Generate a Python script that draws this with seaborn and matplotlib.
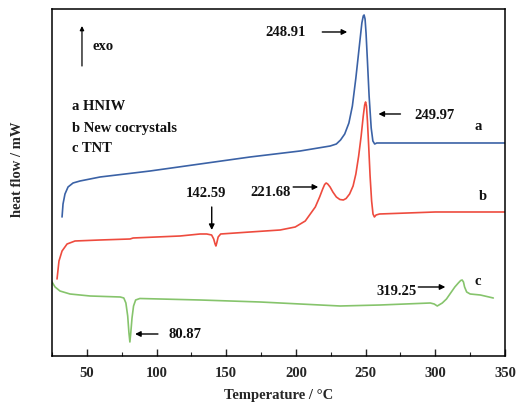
import matplotlib
matplotlib.use("Agg")
import matplotlib.pyplot as plt
from matplotlib.ticker import MultipleLocator
import seaborn as sns

# DSC traces (temperature in °C, heat flow in arbitrary offset units)
temp_a = [32.2, 32.9, 34.3, 36.5, 40.1, 45.1, 59.5, 95.4, 131.2, 167.1, 203.0,
          224.6, 229.0, 232.0, 235.0, 238.0, 240.5, 243.0, 245.5, 247.3, 248.3,
          248.91, 249.6, 250.3, 251.3, 252.5, 254.0, 255.2, 256.5, 258.0, 270.0,
          300.0, 330.0, 350.0]
flow_a = [13.9, 15.2, 16.2, 16.9, 17.3, 17.5, 17.9, 18.5, 19.2, 19.9, 20.5,
          21.0, 21.2, 21.6, 22.2, 23.3, 25.0, 27.8, 31.0, 33.3, 34.0,
          34.1, 33.7, 32.3, 29.5, 26.0, 22.8, 21.5, 21.2, 21.3, 21.3,
          21.3, 21.3, 21.3]

temp_b = [28.6, 30.0, 32.2, 35.8, 41.5, 59.5, 81.0, 83.2, 116.9, 131.2, 136.0,
          139.5, 141.0, 142.0, 142.59, 143.2, 144.2, 146.0, 167.1, 188.7, 199.5,
          206.7, 213.9, 217.0, 219.2, 220.6, 221.68, 222.8, 224.5, 226.5, 229.0,
          231.5, 234.0, 236.0, 238.5, 241.0, 243.0, 245.0, 246.8, 248.3, 249.3,
          249.97, 250.6, 251.3, 252.2, 253.2, 254.3, 255.3, 256.3, 257.5, 260.0,
          300.0, 350.0]
flow_b = [7.7, 9.5, 10.5, 11.2, 11.5, 11.6, 11.7, 11.8, 12.0, 12.2, 12.2,
          12.1, 11.7, 11.2, 11.0, 11.3, 11.9, 12.2, 12.4, 12.6, 12.9,
          13.5, 14.9, 15.9, 16.7, 17.15, 17.3, 17.2, 16.9, 16.4, 15.9,
          15.65, 15.6, 15.75, 16.2, 17.0, 18.2, 20.0, 22.0, 24.0, 25.1,
          25.4, 25.0, 23.5, 21.0, 18.0, 15.5, 14.2, 13.9, 14.1, 14.2,
          14.4, 14.4]

temp_c = [25.0, 27.2, 30.7, 37.9, 52.3, 74.0, 76.5, 78.0, 79.3, 80.2, 80.87,
          81.5, 82.4, 83.5, 85.0, 88.0, 131.2, 174.3, 203.0, 231.7, 260.5,
          296.4, 299.2, 301.4, 305.0, 308.0, 311.0, 314.0, 316.5, 318.2, 319.25,
          320.2, 321.0, 322.5, 325.0, 332.3, 341.6]
flow_c = [7.4, 6.9, 6.5, 6.2, 6.0, 5.9, 5.8, 5.3, 4.0, 2.3, 1.4,
          2.3, 3.8, 5.0, 5.6, 5.75, 5.6, 5.4, 5.2, 5.0, 5.1,
          5.3, 5.2, 5.0, 5.3, 5.7, 6.3, 6.9, 7.3, 7.55, 7.6,
          7.4, 6.9, 6.4, 6.2, 6.1, 5.8]

# Peak temperatures marked on the traces
peak_a = 248.91
peak_b_main = 249.97
peak_b_mid = 221.68
dip_b = 142.59
dip_c = 80.87
peak_c = 319.25

x_ticks = [50, 100, 150, 200, 250, 300, 350]

sns.set_style("ticks")
plt.rcParams["font.family"] = ["Liberation Serif", "DejaVu Serif"]
plt.rcParams["font.weight"] = "bold"

fig = plt.figure(figsize=(5.17, 4.06), dpi=100)
ax = fig.add_axes([0.1006, 0.1207, 0.8762, 0.8547])

sns.lineplot(x=temp_a, y=flow_a, ax=ax, color="#3b62a6", lw=1.2,
             sort=False, estimator=None)
sns.lineplot(x=temp_b, y=flow_b, ax=ax, color="#ee4b3e", lw=1.2,
             sort=False, estimator=None)
sns.lineplot(x=temp_c, y=flow_c, ax=ax, color="#86c46c", lw=1.2,
             sort=False, estimator=None)

ax.set_xlim(25, 350)
ax.set_ylim(0, 34.7)
ax.set_xticks(x_ticks)
ax.set_xticklabels([str(t) for t in x_ticks], fontsize=10.5, fontweight="bold")
ax.xaxis.set_minor_locator(MultipleLocator(25))
ax.tick_params(axis="x", which="major", direction="in", length=5, width=1,
               pad=7, top=False)
ax.tick_params(axis="x", which="minor", direction="in", length=3, width=0.8,
               top=False)
ax.set_yticks([])
for s in ax.spines.values():
    s.set_linewidth(1.1)
    s.set_color("black")
    s.set_visible(True)

ax.set_xlabel("Temperature / °C", fontsize=10.5, fontweight="bold", labelpad=7)
ax.set_ylabel("heat flow / mW", fontsize=10.5, fontweight="bold")
ax.yaxis.set_label_coords(-0.062, 0.54)

txt = dict(fontsize=10.5, fontweight="bold", color="#111111")
arrow = dict(arrowstyle="-|>", color="black", lw=1.0, mutation_scale=8,
             shrinkA=0, shrinkB=0)

def note(label, xy, xytext, tx, ty):
    ax.annotate("", xy=xy, xytext=xytext, arrowprops=arrow)
    ax.text(tx, ty, label, ha="center", va="center", **txt)

note(f"{peak_a:.2f}", (236.8, 32.4), (218.9, 32.4), 192.3, 32.4)
note(f"{peak_b_main:.2f}", (259.2, 24.2), (275.0, 24.2), 299.2, 24.1)
note(f"{dip_b:.2f}", (dip_b - 3.0, 12.6), (dip_b - 3.0, 14.9), 135.5, 16.3)
note(f"{peak_b_mid:.2f}", (216.0, 16.9), (198.0, 16.9), 181.5, 16.4)
note(f"{peak_c:.2f}", (307.2, 6.9), (287.8, 6.9), 272.0, 6.5)
note(f"{dip_c:.2f}", (84.6, 2.2), (101.0, 2.2), 120.5, 2.2)

ax.text(330.8, 23.0, "a", ha="center", va="center", **txt)
ax.text(334.4, 16.0, "b", ha="center", va="center", **txt)
ax.text(330.8, 7.5, "c", ha="center", va="center", **txt)

# exothermic direction indicator
ax.annotate("", xy=(46.5, 33.0), xytext=(46.5, 29.0),
            arrowprops=dict(arrowstyle="-|>", color="black", lw=0.9,
                            mutation_scale=6, shrinkA=0, shrinkB=0))
ax.text(54.4, 31.0, "exo", ha="left", va="center", **txt)

ax.text(39.4, 25.0, "a HNIW", ha="left", va="center", **txt)
ax.text(39.4, 22.8, "b New cocrystals", ha="left", va="center", **txt)
ax.text(39.4, 20.8, "c TNT", ha="left", va="center", **txt)

fig.savefig("out.png", dpi=100)
